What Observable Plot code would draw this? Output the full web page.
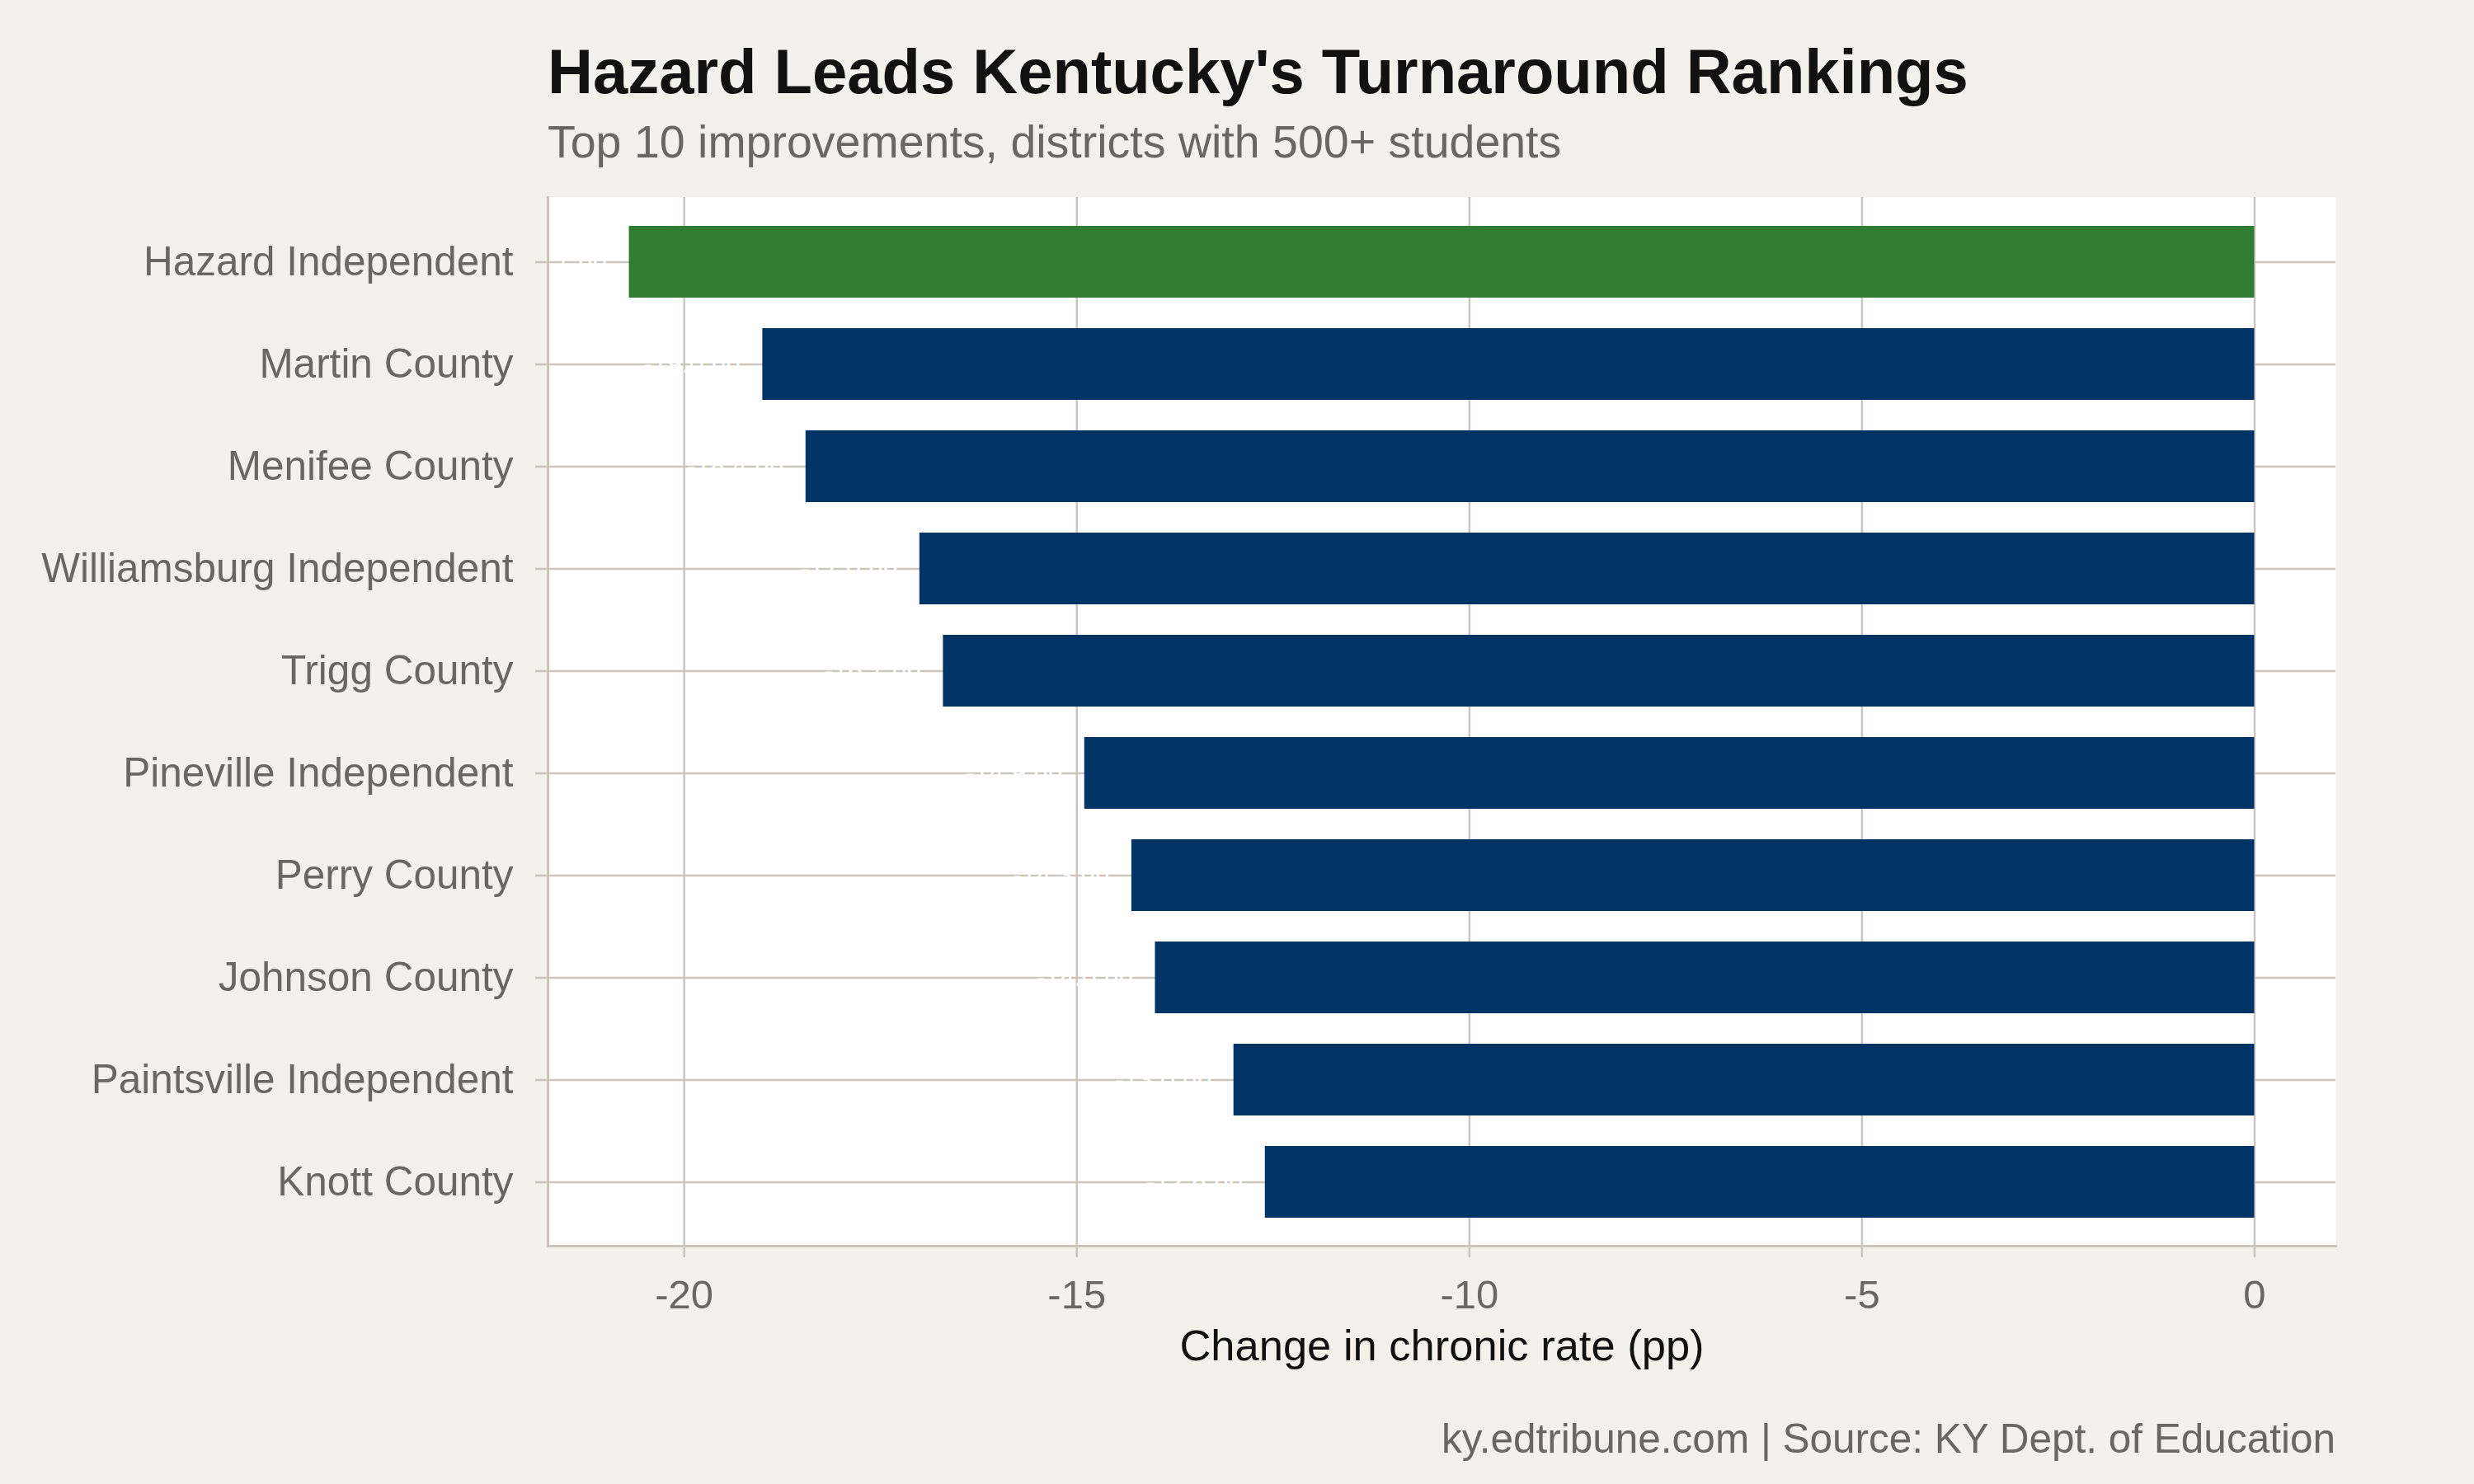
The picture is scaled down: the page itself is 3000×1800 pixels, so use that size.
<!DOCTYPE html>
<html>
<head>
<meta charset="utf-8">
<script src="https://cdn.jsdelivr.net/npm/d3@7"></script>
<script src="https://cdn.jsdelivr.net/npm/@observablehq/plot@0.6"></script>
<style>
html, body { margin: 0; padding: 0; background: #f4f1ec; }
#page { position: relative; width: 3000px; height: 1800px; background: #f4f1ec; font-family: "Liberation Sans", Arial, Helvetica, sans-serif; overflow: hidden; }
.t { position: absolute; white-space: nowrap; line-height: 1; }
</style>
</head>
<body>
<div id="page">
  <div class="t" id="title" style="left:664px;top:49px;font-size:76px;font-weight:bold;color:#111111;">Hazard Leads Kentucky's Turnaround Rankings</div>
  <div class="t" id="subtitle" style="left:664px;top:145px;font-size:55.5px;color:#6b6660;">Top 10 improvements, districts with 500+ students</div>
  <div id="chart" style="position:absolute;left:0;top:220px;"></div>
  <div class="t" id="caption" style="right:168px;top:1720px;font-size:49.5px;color:#6b6660;">ky.edtribune.com | Source: KY Dept. of Education</div>
</div>
<script>
// ---- data ----
const districts = [
  "Hazard Independent",
  "Martin County",
  "Menifee County",
  "Williamsburg Independent",
  "Trigg County",
  "Pineville Independent",
  "Perry County",
  "Johnson County",
  "Paintsville Independent",
  "Knott County"
];
const changes = [-20.7, -19.0, -18.45, -17.0, -16.7, -14.9, -14.3, -14.0, -13.0, -12.6];
const highlight = "Hazard Independent";
const xTicks = [-20, -15, -10, -5, 0];
const xDomain = [-21.735, 1.035];
const xLabel = "Change in chronic rate (pp)";

const data = districts.map((name, i) => ({
  name,
  change: changes[i],
  group: name === highlight ? "Top" : "Other"
}));

const gridColor = "#ccc5bb";
const textGray = "#6b6660";

const chart = Plot.plot({
  width: 3000,
  height: 1460,
  marginLeft: 664,
  marginRight: 168,
  marginTop: 19,
  marginBottom: 169,
  style: { background: "transparent", fontFamily: "'Liberation Sans', Arial, Helvetica, sans-serif", overflow: "visible" },
  x: { domain: xDomain },
  y: { domain: districts, paddingInner: 0.3, paddingOuter: 0.245, align: 0.5 },
  color: { domain: ["Top", "Other"], range: ["#2e7d32", "#003366"] },
  marks: [
    Plot.frame({ fill: "white", stroke: null }),
    Plot.gridX(xTicks, { stroke: gridColor, strokeOpacity: 1, strokeWidth: 2.5 }),
    Plot.gridY({ stroke: gridColor, strokeOpacity: 1, strokeWidth: 2.5 }),
    Plot.text(data, {
      x: "change", y: "name",
      text: d => `${d.change.toFixed(1)} pp`,
      textAnchor: "end", dx: -27, fill: "white", fontSize: 32, clip: true
    }),
    Plot.barX(data, { x: "change", y: "name", fill: "group" }),
    Plot.frame({ anchor: "left", stroke: gridColor, strokeWidth: 3 }),
    Plot.frame({ anchor: "bottom", stroke: gridColor, strokeWidth: 3 }),
    Plot.axisX({
      ticks: xTicks, tickFormat: d => String(d), tickSize: 14, tickPadding: 27,
      fontSize: 49, fill: textGray, stroke: gridColor, strokeWidth: 2.5, label: null
    }),
    Plot.axisY({
      tickSize: 15, tickPadding: 27, fontSize: 49.5, fill: textGray,
      stroke: gridColor, strokeWidth: 2.5, label: null
    }),
    Plot.text([xLabel], {
      text: d => d, frameAnchor: "bottom", lineAnchor: "top", dy: 101,
      fontSize: 52.5, fill: "#111111"
    })
  ]
});
document.getElementById("chart").appendChild(chart);
</script>
</body>
</html>
